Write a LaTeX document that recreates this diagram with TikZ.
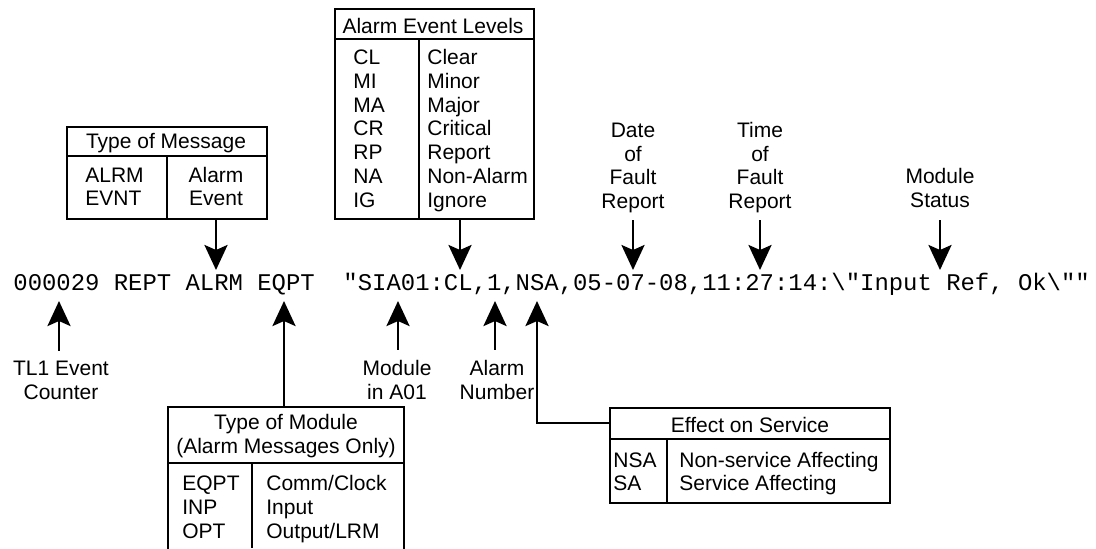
\documentclass[tikz,border=0pt]{standalone}
\usepackage{fontspec}
\setmainfont{Liberation Sans}
\setmonofont{Liberation Mono}
\usetikzlibrary{arrows.meta}
\begin{document}
\begin{tikzpicture}[x=0.5pt,y=-0.5pt,
  lbl/.style={inner sep=0pt, anchor=base, font=\fontsize{10.5}{11.75}\selectfont, align=center},
  cell/.style={inner sep=0pt, anchor=base west, font=\fontsize{10.5}{11.85}\selectfont, align=left},
  tbox/.style={draw, line width=1.1pt, inner sep=0pt, anchor=north west},
  tline/.style={line width=1.1pt},
  arr/.style={line width=1.4pt, -{Stealth[length=12.5pt,width=11.5pt,inset=2.5pt]}},
]
\useasboundingbox (0,0) rectangle (1096,548);

% command line
\node[inner sep=0pt, anchor=base west, font=\ttfamily\fontsize{11.96}{14}\selectfont] (cmd) at (13,290)
  {000029 REPT ALRM EQPT~~"SIA01:CL,1,NSA,05-07-08,11:27:14:\textbackslash"Input Ref, Ok\textbackslash""};

% targets on the command line
\coordinate (pALRM) at (216,270);
\coordinate (pCL) at (460,270);
\coordinate (pDate) at (633,270);
\coordinate (pTime) at (760,270);
\coordinate (pStat) at (940,270);
\coordinate (pCnt) at (59,301);
\coordinate (pEQPT) at (284,301);
\coordinate (pMod) at (398,301);
\coordinate (pNum) at (495,301);
\coordinate (pNSA) at (537,301);

% Type of Message
\node[tbox, minimum width=100pt, minimum height=46pt] (tom) at (66,126) {};
\draw[tline] (66,156) -- (266,156) (167,156) -- (167,218);
\node[lbl] (tomH) at (166,148) {Type of Message};
\node[cell, font=\fontsize{10.5}{11.25}\selectfont] (tomC) at (85,205) {ALRM\\EVNT};
\node[lbl, font=\fontsize{10.5}{11.25}\selectfont] (tomN) at (216,205) {Alarm\\Event};

% Alarm Event Levels
\node[tbox, minimum width=99.5pt, minimum height=105pt] (ael) at (334,8) {};
\draw[tline] (334,39) -- (533,39) (419,39) -- (419,218);
\node[lbl] (aelH) at (433,33) {Alarm Event Levels};
\node[cell] (aelC) at (353,207) {CL\\MI\\MA\\CR\\RP\\NA\\IG};
\node[cell] (aelN) at (427,207) {Clear\\Minor\\Major\\Critical\\Report\\Non-Alarm\\Ignore};

% Type of Module (cut by the lower edge)
\node[inner sep=0pt, minimum width=117.5pt, minimum height=70.5pt, anchor=north west] (tmod) at (168,407) {};
\draw[tline] (tmod.south west) |- (tmod.north east) -- (tmod.south east);
\draw[tline] (168,463) -- (403,463) (252,463) -- (252,548);
\node[lbl] (tmodH) at (286,453) {Type of Module\\(Alarm Messages Only)};
\node[cell, font=\fontsize{10.5}{12}\selectfont] (tmodC) at (182,538) {EQPT\\INP\\OPT};
\node[cell, font=\fontsize{10.5}{12}\selectfont] (tmodN) at (266,538) {Comm/Clock\\Input\\Output/LRM};

% Effect on Service
\node[tbox, minimum width=140pt, minimum height=47.5pt] (eos) at (609,407) {};
\draw[tline] (609,439) -- (889,439) (667,439) -- (667,502);
\node[lbl] (eosH) at (750,432) {Effect on Service};
\node[cell, font=\fontsize{10.5}{11.5}\selectfont] (eosC) at (613,490) {NSA\\SA};
\node[cell, font=\fontsize{10.5}{11.5}\selectfont] (eosN) at (679,490) {Non-service Affecting\\Service Affecting};

% upper labels
\node[lbl] (lDate) at (633,208) {Date\\of\\Fault\\Report};
\node[lbl] (lTime) at (760,208) {Time\\of\\Fault\\Report};
\node[lbl] (lStat) at (940,207) {Module\\Status};

% lower labels
\node[lbl] (lCnt) at (61,399) {TL1 Event\\Counter};
\node[lbl] (lMod) at (397,399) {Module\\in A01};
\node[lbl] (lNum) at (497,399) {Alarm\\Number};

% down arrows
\draw[arr] (tom.south -| pALRM) -- (pALRM);
\draw[arr] (ael.south -| pCL) -- (pCL);
\draw[arr] (lDate.south |- ael.south) -- (pDate);
\draw[arr] (lTime.south |- ael.south) -- (pTime);
\draw[arr] (lStat.south |- ael.south) -- (pStat);

% up arrows
\draw[arr, shorten <=5pt] (lCnt.north -| pCnt) -- (pCnt);
\draw[arr, shorten <=5pt] (lMod.north -| pMod) -- (pMod);
\draw[arr, shorten <=5pt] (lNum.north -| pNum) -- (pNum);
\draw[arr] (tmod.north -| pEQPT) -- (pEQPT);
\draw[arr] (eos.north west) ++(0,16) -| (pNSA);
\end{tikzpicture}
\end{document}
